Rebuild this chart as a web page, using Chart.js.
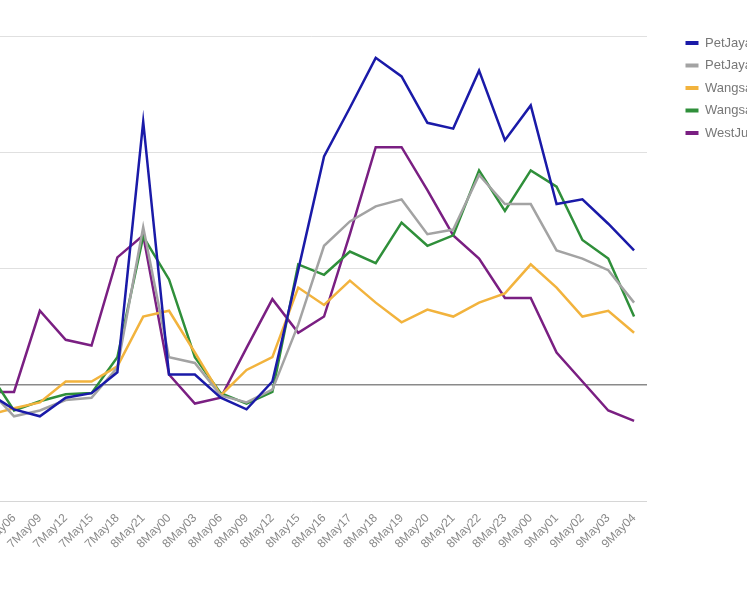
<!DOCTYPE html>
<html lang="en">
<head>
    <meta charset="UTF-8">
    <title>Hourly trend by location</title>
    <script src="https://cdn.jsdelivr.net/npm/chart.js@4.4.1/dist/chart.umd.min.js"></script>
    <style>
        html, body {
            margin: 0;
            padding: 0;
            background: #fff;
            width: 747px;
            height: 598px;
            overflow: hidden;
            position: relative;
        }

        /* the picture is a crop: the chart runs past the left and right edges */
        .chart-box {
            position: absolute;
            left: -52px;
            top: 27px;
            width: 828px;
            height: 544px;
        }
    </style>
</head>
<body>
    <div class="chart-box">
        <canvas id="trend-chart"></canvas>
    </div>

    <script>
        const hours = ['7May03', '7May06', '7May09', '7May12', '7May15', '7May18', '8May21', '8May00', '8May03',
            '8May06', '8May09', '8May12', '8May15', '8May16', '8May17', '8May18', '8May19', '8May20',
            '8May21', '8May22', '8May23', '9May00', '9May01', '9May02', '9May03', '9May04'];

        const petJaya1 = [-0.07, -0.21, -0.27, -0.11, -0.07, 0.11, 2.27, 0.09, 0.09, -0.11, -0.21, 0.03, 0.99,
            1.97, 2.39, 2.82, 2.66, 2.26, 2.21, 2.71, 2.11, 2.41, 1.56, 1.60, 1.39, 1.16];
        const petJaya2 = [-0.03, -0.27, -0.22, -0.13, -0.11, 0.15, 1.36, 0.24, 0.19, -0.09, -0.15, -0.04, 0.52,
            1.20, 1.41, 1.54, 1.60, 1.30, 1.34, 1.81, 1.56, 1.56, 1.16, 1.09, 0.99, 0.71];
        const wangsa1 = [-0.26, -0.20, -0.15, 0.03, 0.03, 0.16, 0.59, 0.64, 0.28, -0.09, 0.13, 0.24, 0.84,
            0.69, 0.90, 0.71, 0.54, 0.65, 0.59, 0.71, 0.79, 1.04, 0.84, 0.59, 0.64, 0.45];
        const wangsa2 = [0.12, -0.22, -0.14, -0.08, -0.07, 0.24, 1.28, 0.91, 0.24, -0.07, -0.16, -0.06, 1.04,
            0.95, 1.15, 1.05, 1.40, 1.20, 1.29, 1.85, 1.50, 1.85, 1.71, 1.25, 1.09, 0.59];
        const westJurong = [-0.06, -0.06, 0.64, 0.39, 0.34, 1.10, 1.29, 0.09, -0.16, -0.11, 0.32, 0.74, 0.45,
            0.59, 1.30, 2.05, 2.05, 1.68, 1.29, 1.09, 0.75, 0.75, 0.28, 0.03, -0.22, -0.31];

        const seriesNames = ['PetJaya_Centre', 'PetJaya_Square', 'Wangsa_Maju', 'Wangsa_Walk', 'WestJurong'];
        const seriesColors = ['#1a1aa8', '#a3a3a3', '#f2b33d', '#2f8f3a', '#7a1f82'];
        const seriesValues = [petJaya1, petJaya2, wangsa1, wangsa2, westJurong];

        const datasets = seriesNames.map(function(name, i) {
            return {
                label: name,
                data: seriesValues[i],
                borderColor: seriesColors[i],
                backgroundColor: seriesColors[i],
                borderWidth: 2.5,
                pointRadius: 0,
                tension: 0,
                fill: false
            };
        });

        const ctx = document.getElementById('trend-chart').getContext('2d');
        new Chart(ctx, {
            type: 'line',
            data: { labels: hours, datasets: datasets },
            options: {
                responsive: true,
                maintainAspectRatio: false,
                animation: false,
                layout: { padding: 0, autoPadding: false },
                scales: {
                    x: {
                        offset: true,
                        grid: { display: false, drawTicks: false },
                        border: { display: false },
                        afterFit: function(scale) { scale.height = 70; },
                        ticks: {
                            autoSkip: false,
                            minRotation: 45,
                            maxRotation: 45,
                            padding: 10,
                            color: '#8a8a8a',
                            font: { family: 'Liberation Sans, Arial, sans-serif', size: 12 }
                        }
                    },
                    y: {
                        position: 'right',
                        min: -1,
                        max: 3.086,
                        border: { display: false },
                        afterFit: function(scale) { scale.width = 29; },
                        ticks: { display: false, stepSize: 1, includeBounds: false },
                        grid: {
                            drawTicks: false,
                            lineWidth: function(c) { return c.tick && c.tick.value === 0 ? 1.6 : 1; },
                            color: function(c) {
                                if (!c.tick) return '#e0e0e0';
                                if (c.tick.value === 0) return '#8a8a8a';
                                if (c.tick.value === -1) return '#d6d6d6';
                                return '#e0e0e0';
                            }
                        }
                    }
                },
                plugins: {
                    tooltip: { enabled: false },
                    legend: {
                        display: true,
                        position: 'right',
                        align: 'start',
                        maxWidth: 100,
                        labels: {
                            boxWidth: 13,
                            boxHeight: 4,
                            padding: 9.5,
                            color: '#777',
                            font: { family: 'Liberation Sans, Arial, sans-serif', size: 13 },
                            generateLabels: function(chart) {
                                return Chart.defaults.plugins.legend.labels.generateLabels(chart).map(function(item) {
                                    item.lineWidth = 0;
                                    return item;
                                });
                            }
                        }
                    }
                }
            }
        });
    </script>
</body>
</html>
